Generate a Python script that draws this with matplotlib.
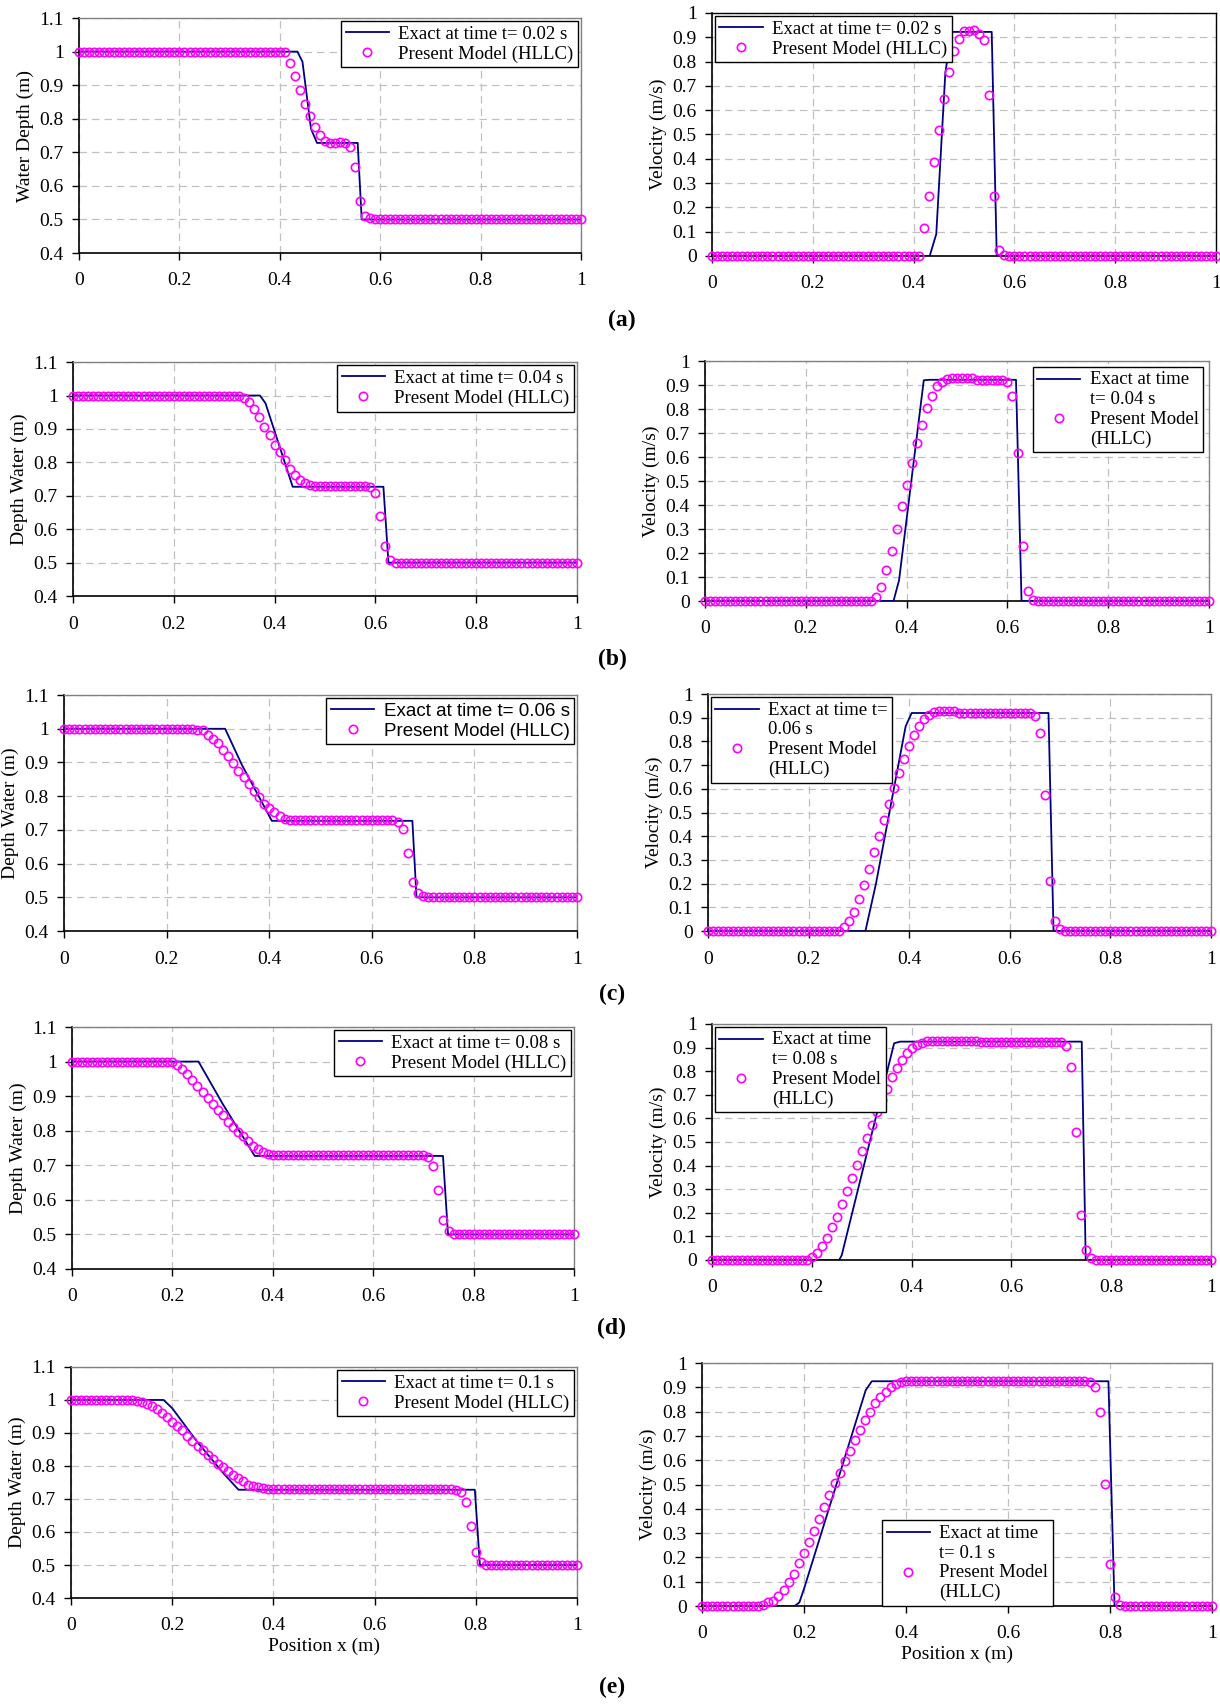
import numpy as np
import matplotlib
matplotlib.use("Agg")
from matplotlib import pyplot as plt
from matplotlib import transforms as mtransforms
from matplotlib.legend_handler import HandlerLine2D
from matplotlib.ticker import FuncFormatter, MultipleLocator

plt.rcParams['font.family'] = ['Liberation Serif', 'DejaVu Serif']
plt.rcParams['font.size'] = 14

# cell positions of the HLLC model output
x_cells = np.linspace(0, 1, 101)

# ---- (a) t = 0.02 s
depth_a = ([1.0] * 42
           + [0.967, 0.926, 0.885, 0.845, 0.807, 0.775, 0.751, 0.734, 0.729,
              0.727, 0.731, 0.727, 0.717, 0.656, 0.555, 0.51, 0.503]
           + [0.5] * 42)
vel_a = ([0.0] * 42
         + [0.113, 0.246, 0.385, 0.519, 0.647, 0.755, 0.842, 0.894, 0.924,
            0.924, 0.931, 0.915, 0.889, 0.662, 0.246, 0.026, 0.004]
         + [0.0] * 42)
exact_depth_a_x = [0, 0.435, 0.445, 0.462, 0.474, 0.555, 0.563, 1]
exact_depth_a_y = [1, 1, 0.97, 0.77, 0.728, 0.728, 0.5, 0.5]
exact_vel_a_x = [0, 0.432, 0.445, 0.463, 0.475, 0.555, 0.565, 1]
exact_vel_a_y = [0, 0, 0.09, 0.753, 0.922, 0.922, 0, 0]

# ---- (b) t = 0.04 s
depth_b = ([1.0] * 34
           + [0.994, 0.982, 0.959, 0.935, 0.906, 0.882, 0.853, 0.83, 0.808,
              0.78, 0.761, 0.748, 0.737, 0.731]
           + [0.729] * 11
           + [0.725, 0.707, 0.64, 0.55, 0.508]
           + [0.5] * 37)
vel_b = ([0.0] * 34
         + [0.015, 0.06, 0.13, 0.21, 0.30, 0.395, 0.485, 0.575, 0.66, 0.735,
            0.805, 0.855, 0.895, 0.913, 0.925]
         + [0.93] * 5
         + [0.921] * 6
         + [0.913, 0.855, 0.615, 0.23, 0.042, 0.005]
         + [0.0] * 35)
exact_depth_b_x = [0, 0.371, 0.382, 0.436, 0.616, 0.626, 1]
exact_depth_b_y = [1, 1, 0.977, 0.727, 0.727, 0.5, 0.5]
exact_vel_b_x = [0, 0.374, 0.385, 0.434, 0.446, 0.617, 0.628, 1]
exact_vel_b_y = [0, 0, 0.087, 0.92, 0.922, 0.922, 0, 0]

# ---- (c) t = 0.06 s
depth_c = ([1.0] * 26
           + [0.997, 0.995, 0.982, 0.97, 0.958, 0.938, 0.918, 0.898, 0.876,
              0.857, 0.836, 0.815, 0.797, 0.778, 0.766, 0.753, 0.742, 0.733]
           + [0.729] * 21
           + [0.724, 0.703, 0.632, 0.546, 0.512, 0.504]
           + [0.5] * 30)
vel_c = ([0.0] * 27
         + [0.018, 0.041, 0.08, 0.136, 0.194, 0.263, 0.333, 0.40, 0.469,
            0.538, 0.603, 0.667, 0.725, 0.78, 0.829, 0.864, 0.893, 0.913,
            0.926]
         + [0.93] * 4
         + [0.922] * 15
         + [0.909, 0.836, 0.576, 0.213, 0.042, 0.007]
         + [0.0] * 30)
exact_depth_c_x = [0, 0.314, 0.346, 0.405, 0.679, 0.687, 1]
exact_depth_c_y = [1, 1, 0.895, 0.727, 0.727, 0.5, 0.5]
exact_vel_c_x = [0, 0.313, 0.334, 0.393, 0.405, 0.677, 0.687, 1]
exact_vel_c_y = [0, 0, 0.2, 0.864, 0.92, 0.92, 0, 0]

# ---- (d) t = 0.08 s
depth_d = ([1.0] * 20
           + [0.998, 0.99, 0.978, 0.963, 0.946, 0.93, 0.911, 0.894, 0.877,
              0.86, 0.844, 0.826, 0.811, 0.797, 0.784, 0.77, 0.757, 0.747,
              0.739, 0.734, 0.731, 0.73]
           + [0.729] * 29
           + [0.725, 0.698, 0.628, 0.543, 0.51, 0.502]
           + [0.5] * 24)
vel_d = ([0.0] * 20
         + [0.013, 0.03, 0.058, 0.092, 0.138, 0.184, 0.237, 0.292, 0.347,
            0.403, 0.463, 0.517, 0.572, 0.627, 0.677, 0.726, 0.774, 0.812,
            0.847, 0.877, 0.898, 0.912, 0.921]
         + [0.929] * 11
         + [0.922] * 17
         + [0.907, 0.819, 0.542, 0.192, 0.044, 0.008]
         + [0.0] * 24)
exact_depth_d_x = [0, 0.252, 0.30, 0.364, 0.739, 0.749, 1]
exact_depth_d_y = [1, 1, 0.878, 0.727, 0.727, 0.5, 0.5]
exact_vel_d_x = [0, 0.255, 0.26, 0.365, 0.377, 0.741, 0.749, 1]
exact_vel_d_y = [0, 0, 0.02, 0.918, 0.925, 0.925, 0, 0]

# ---- (e) t = 0.1 s
depth_e = ([1.0] * 12
           + [0.999, 0.997, 0.993, 0.988, 0.982, 0.972, 0.961, 0.947, 0.934,
              0.922, 0.908, 0.891, 0.877, 0.862, 0.849, 0.834, 0.822, 0.807,
              0.796, 0.785, 0.774, 0.763, 0.755, 0.743, 0.739, 0.735, 0.732,
              0.73]
           + [0.729] * 36
           + [0.728, 0.722, 0.692, 0.619, 0.539, 0.51, 0.501]
           + [0.5] * 18)
vel_e = ([0.0] * 12
         + [0.003, 0.015, 0.022, 0.041, 0.064, 0.098, 0.131, 0.175, 0.22,
            0.263, 0.31, 0.36, 0.408, 0.457, 0.505, 0.546, 0.598, 0.64,
            0.684, 0.726, 0.765, 0.80, 0.834, 0.86, 0.882, 0.90, 0.914,
            0.923]
         + [0.926] * 36
         + [0.922, 0.90, 0.80, 0.503, 0.171, 0.037, 0.005]
         + [0.0] * 18)
exact_depth_e_x = [0, 0.183, 0.2, 0.25, 0.3, 0.331, 0.798, 0.808, 1]
exact_depth_e_y = [1, 1, 0.975, 0.872, 0.78, 0.728, 0.728, 0.5, 0.5]
exact_vel_e_x = [0, 0.182, 0.191, 0.201, 0.321, 0.333, 0.797, 0.809, 1]
exact_vel_e_y = [0, 0, 0.015, 0.077, 0.888, 0.925, 0.925, 0, 0]

model_label = "Present Model (HLLC)"
model_label_wrapped = "Present Model\n(HLLC)"

LEG_FS = 13.5

fig = plt.figure(figsize=(12.2, 17.04), dpi=100)


class FirstLineHandler(HandlerLine2D):
    # put the handle next to the first line of a two-line label
    def create_artists(self, legend, orig_handle, xdescent, ydescent,
                       width, height, fontsize, trans):
        arts = super().create_artists(legend, orig_handle, xdescent,
                                      ydescent, width, height, fontsize,
                                      trans)
        shift = mtransforms.Affine2D().translate(0, 0.58 * fontsize)
        for a in arts:
            a.set_transform(shift + trans)
        return arts


def fmt(v, pos):
    return f"{round(v, 1):g}"


def panel(rect, ex_x, ex_y, pts, kind, ylabel, exact_label, leg_kw,
          spine_col='#808080', xlabel=None, label_font=None,
          pts_label=model_label):
    ax = fig.add_axes(rect)
    ln, = ax.plot(ex_x, ex_y, color='#000080', lw=1.3, label=exact_label,
                  zorder=3)
    mk, = ax.plot(x_cells, pts, ls='none', marker='o', ms=6, mfc='none',
                  mec='#FF00FF', mew=1.2, label=pts_label, zorder=4,
                  clip_on=False)
    ax.set_xlim(0, 1)
    if kind == 'depth':
        ax.set_ylim(0.4, 1.1)
    else:
        ax.set_ylim(0, 1)
    ax.xaxis.set_major_locator(MultipleLocator(0.2))
    ax.yaxis.set_major_locator(MultipleLocator(0.1))
    ax.xaxis.set_major_formatter(FuncFormatter(fmt))
    ax.yaxis.set_major_formatter(FuncFormatter(fmt))
    ax.grid(True, color='#C0C0C0', ls=(0, (6, 4)), lw=0.9)
    ax.set_axisbelow(True)
    ax.tick_params(direction='out', length=5, width=1, labelsize=14, pad=6)
    ax.tick_params(axis='x', pad=9)
    for s in ['left', 'bottom']:
        ax.spines[s].set_color('black')
        ax.spines[s].set_linewidth(1.2)
    for s in ['top', 'right']:
        ax.spines[s].set_color(spine_col)
        ax.spines[s].set_linewidth(1.0)
    ax.set_ylabel(ylabel, fontsize=14)
    if xlabel:
        ax.set_xlabel(xlabel, fontsize=14, labelpad=2)
    prop = {'size': LEG_FS}
    if label_font:
        prop['family'] = label_font
    hmap = {}
    if '\n' in exact_label:
        hmap[ln] = FirstLineHandler()
    if '\n' in pts_label:
        hmap[mk] = FirstLineHandler()
    leg = ax.legend(fancybox=False, framealpha=1, edgecolor='black',
                    handlelength=2.3, handletextpad=0.5, borderpad=0.25,
                    labelspacing=0.15, prop=prop, handler_map=hmap,
                    **leg_kw)
    leg.get_frame().set_linewidth(1.0)
    leg.set_zorder(10)
    return ax


ur = dict(loc='upper right', borderaxespad=0.15)
ul = dict(loc='upper left', borderaxespad=0.15)

panel([0.0648, 0.8515, 0.4115, 0.1379], exact_depth_a_x, exact_depth_a_y,
      depth_a, 'depth', 'Water Depth (m)', 'Exact at time t= 0.02 s', ur)
panel([0.5836, 0.8498, 0.4131, 0.1426], exact_vel_a_x, exact_vel_a_y,
      vel_a, 'vel', 'Velocity (m/s)', 'Exact at time t= 0.02 s', ul,
      spine_col='black')

panel([0.0598, 0.6502, 0.4131, 0.1373], exact_depth_b_x, exact_depth_b_y,
      depth_b, 'depth', 'Depth Water (m)', 'Exact at time t= 0.04 s', ur)
panel([0.5779, 0.6473, 0.4131, 0.1408], exact_vel_b_x, exact_vel_b_y,
      vel_b, 'vel', 'Velocity (m/s)', 'Exact at time\nt= 0.04 s',
      dict(loc='upper right', borderaxespad=0.3),
      pts_label=model_label_wrapped)

panel([0.0525, 0.4536, 0.4205, 0.1385], exact_depth_c_x, exact_depth_c_y,
      depth_c, 'depth', 'Depth Water (m)', 'Exact at time t= 0.06 s', ur,
      label_font=['Liberation Sans', 'DejaVu Sans'])
panel([0.5803, 0.4536, 0.4123, 0.1391], exact_vel_c_x, exact_vel_c_y,
      vel_c, 'vel', 'Velocity (m/s)', 'Exact at time t=\n0.06 s', ul,
      pts_label=model_label_wrapped)

panel([0.0590, 0.2553, 0.4115, 0.1420], exact_depth_d_x, exact_depth_d_y,
      depth_d, 'depth', 'Depth Water (m)', 'Exact at time t= 0.08 s', ur)
panel([0.5836, 0.2606, 0.4090, 0.1385], exact_vel_d_x, exact_vel_d_y,
      vel_d, 'vel', 'Velocity (m/s)', 'Exact at time\nt= 0.08 s', ul,
      pts_label=model_label_wrapped)

panel([0.0582, 0.0622, 0.4148, 0.1356], exact_depth_e_x, exact_depth_e_y,
      depth_e, 'depth', 'Depth Water (m)', 'Exact at time t= 0.1 s', ur,
      xlabel='Position x (m)')
panel([0.5754, 0.0575, 0.4180, 0.1426], exact_vel_e_x, exact_vel_e_y,
      vel_e, 'vel', 'Velocity (m/s)', 'Exact at time\nt= 0.1 s',
      dict(loc='lower left', bbox_to_anchor=(0.353, 0.0), borderaxespad=0),
      xlabel='Position x (m)', pts_label=model_label_wrapped)

# panel letters
for lab, (px, py) in zip(['(a)', '(b)', '(c)', '(d)', '(e)'],
                         [(622, 320), (612, 659), (612, 994), (612, 1328),
                          (612, 1687)]):
    fig.text(px / 1220, 1 - py / 1704, lab, ha='center', va='center',
             fontsize=17, fontweight='bold')

fig.savefig('out.png', dpi=100)
